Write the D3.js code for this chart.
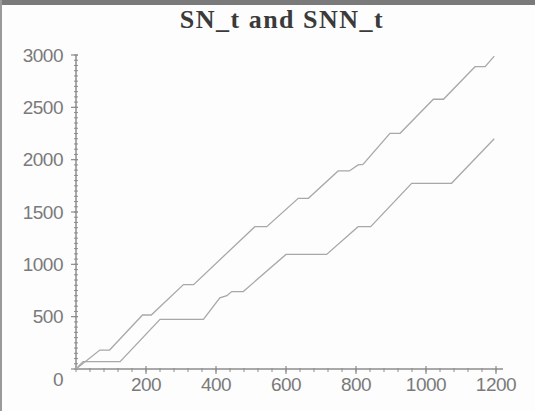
<!DOCTYPE html>
<html>
<head>
<meta charset="utf-8">
<script src="https://cdn.jsdelivr.net/npm/d3@7"></script>
<style>
  html, body { margin: 0; padding: 0; background: #fff; }
  svg { display: block; }
</style>
</head>
<body>
<div id="chart"></div>
<script>
// SN_t (upper curve)
const snT = [0, 68, 96, 190, 215, 307, 336, 511, 545, 635, 664, 749, 781, 806, 820, 897, 926, 1021, 1050, 1140, 1169, 1195];
const snV = [0, 181, 181, 516, 516, 806, 806, 1360, 1360, 1631, 1631, 1892, 1892, 1950, 1955, 2252, 2252, 2577, 2577, 2888, 2888, 2990];
// SNN_t (lower curve)
const snnT = [0, 20, 126, 240, 364, 411, 431, 445, 478, 600, 716, 806, 842, 959, 1073, 1195];
const snnV = [0, 70, 70, 474, 474, 680, 700, 740, 740, 1095, 1095, 1360, 1360, 1774, 1774, 2200];

const xTicks = [200, 400, 600, 800, 1000, 1200];
const yTicks = [0, 500, 1000, 1500, 2000, 2500, 3000];
const title = "SN_t and SNN_t";

const W = 535, H = 411;
const svg = d3.select("#chart").append("svg")
  .attr("width", W).attr("height", H);

// window frame
svg.append("rect").attr("x", 0).attr("y", 0).attr("width", W).attr("height", H).attr("fill", "#fdfdfd");
svg.append("rect").attr("x", 0).attr("y", 0).attr("width", W).attr("height", 5).attr("fill", "#7a7a7a");
svg.append("rect").attr("x", 0).attr("y", 0).attr("width", 2).attr("height", H).attr("fill", "#9a9a9a");

const x = d3.scaleLinear().domain([0, 1200]).range([76, 496]);
const y = d3.scaleLinear().domain([0, 3000]).range([369, 55]);

const axisColor = "#8c8c8c";
const textColor = "#7a7a7a";

// axis lines
svg.append("line").attr("x1", x(0)).attr("x2", x(1200) + 7)
  .attr("y1", y(0)).attr("y2", y(0)).attr("stroke", axisColor).attr("stroke-width", 1.5);
svg.append("line").attr("x1", x(0)).attr("x2", x(0))
  .attr("y1", y(0)).attr("y2", y(3000)).attr("stroke", axisColor).attr("stroke-width", 1.5);

// minor ticks
svg.append("g").selectAll("line").data(d3.range(0, 1201, 40)).join("line")
  .attr("x1", d => x(d)).attr("x2", d => x(d))
  .attr("y1", y(0) - 1).attr("y2", y(0) + 3)
  .attr("stroke", axisColor).attr("stroke-width", 1);
svg.append("g").selectAll("line").data(d3.range(0, 3001, 50)).join("line")
  .attr("x1", x(0) - 2).attr("x2", x(0) + 2)
  .attr("y1", d => y(d)).attr("y2", d => y(d))
  .attr("stroke", axisColor).attr("stroke-width", 1);

// major ticks
svg.append("g").selectAll("line").data(xTicks).join("line")
  .attr("x1", d => x(d)).attr("x2", d => x(d))
  .attr("y1", y(0) - 3).attr("y2", y(0) + 5)
  .attr("stroke", axisColor).attr("stroke-width", 1.2);
svg.append("g").selectAll("line").data(yTicks).join("line")
  .attr("x1", x(0) - 5).attr("x2", x(0) + 2)
  .attr("y1", d => y(d)).attr("y2", d => y(d))
  .attr("stroke", axisColor).attr("stroke-width", 1.2);

// tick labels
const font = "Liberation Sans, Arial, sans-serif";
svg.append("g").selectAll("text").data(xTicks).join("text")
  .attr("x", d => x(d)).attr("y", y(0) + 15)
  .attr("dy", "0.35em").attr("text-anchor", "middle")
  .attr("font-family", font).attr("font-size", "19px").attr("fill", textColor)
  .attr("letter-spacing", "-0.5px")
  .text(d => d);
svg.append("g").selectAll("text").data(yTicks).join("text")
  .attr("x", x(0) - 13).attr("y", d => d === 0 ? y(d) + 10 : y(d))
  .attr("dy", "0.35em").attr("text-anchor", "end")
  .attr("font-family", font).attr("font-size", "19px").attr("fill", textColor)
  .attr("letter-spacing", "-0.5px")
  .text(d => d);

// curves
const line = d3.line().x(d => x(d[0])).y(d => y(d[1]));
const series = [d3.zip(snT, snV), d3.zip(snnT, snnV)];
svg.append("g").selectAll("path").data(series).join("path")
  .attr("d", line)
  .attr("fill", "none")
  .attr("stroke", "#a8a8a8")
  .attr("stroke-width", 1.3);

// title
svg.append("text")
  .attr("x", 282).attr("y", 28)
  .attr("text-anchor", "middle")
  .attr("font-family", "Liberation Serif, Times New Roman, serif")
  .attr("font-weight", "bold")
  .attr("font-size", "26px")
  .attr("letter-spacing", "1.5px")
  .attr("fill", "#3a3a3a")
  .text(title);
</script>
</body>
</html>
